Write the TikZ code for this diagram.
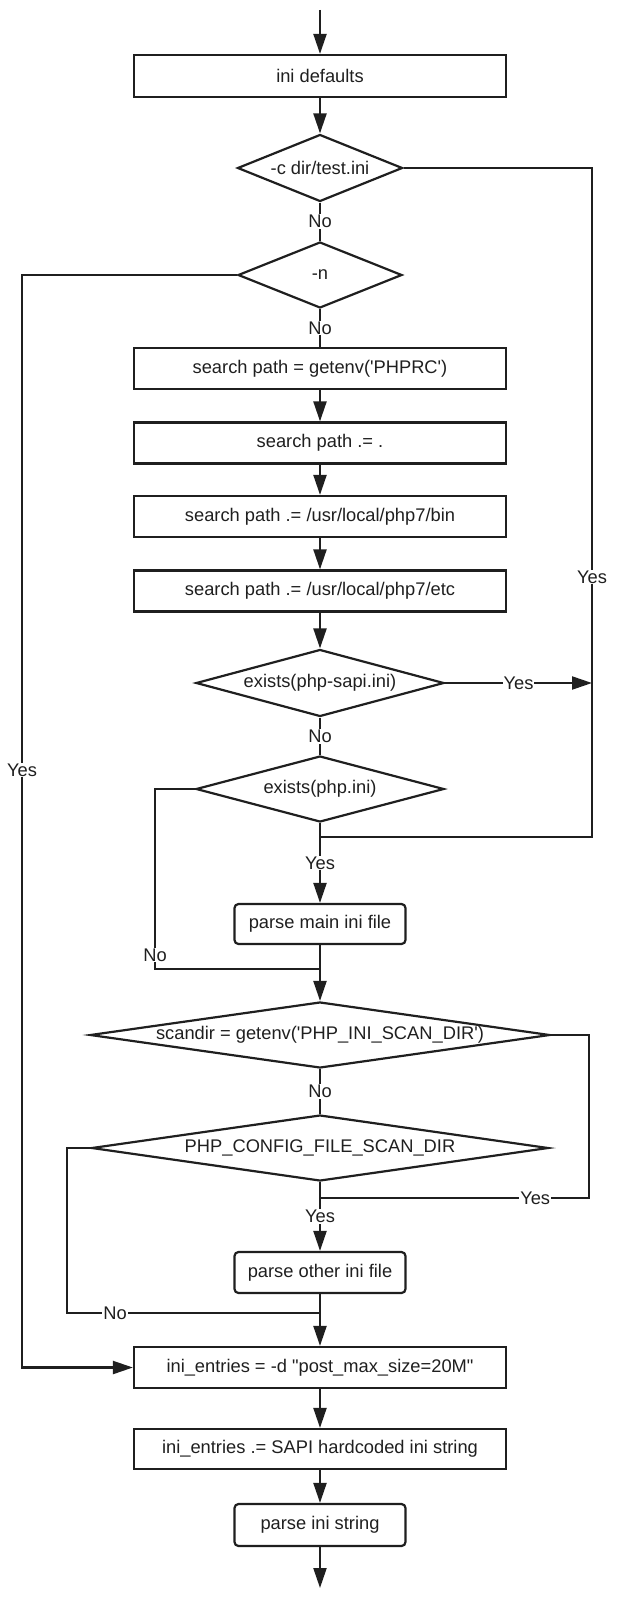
\documentclass[tikz,border=0pt]{standalone}
\usepackage{fontspec}
\setmainfont{Liberation Sans}[Ligatures=TeXOff]
\usetikzlibrary{shapes.geometric,arrows.meta}
\begin{document}
\begin{tikzpicture}[x=1pt,y=-1pt,
  every node/.style={font=\fontsize{18.3}{21}\selectfont, text=black!88},
  line/.style={line width=2.2pt, draw=black!88},
  arr/.style={line, -{Triangle[length=20pt,width=13pt]}},
  box/.style={draw=black!88, line width=2.2pt, rectangle, inner sep=0pt, minimum width=372pt, minimum height=41pt},
  rbox/.style={draw=black!88, line width=2.2pt, rectangle, rounded corners=4pt, inner sep=0pt, minimum width=171pt, minimum height=41pt},
  dia/.style={draw=black!88, line width=2.2pt, diamond, inner sep=0pt},
  lbl/.style={fill=white, inner sep=1pt}
]
\useasboundingbox (0,0) rectangle (616,1600);

% nodes
\coordinate (start) at (320,10);
\node[box, minimum height=42pt] (def) at (320,76) {ini defaults};
\node[dia, minimum width=165pt, minimum height=67pt, aspect=2.46] (d1) at (320,168) {-c dir/test.ini};
\node[dia, minimum width=164pt, minimum height=66pt, aspect=2.48] (d2) at (320,275) {-n};
\node[box] (s1) at (320,368.5) {search path = getenv('PHPRC')};
\node[box] (s2) at (320,443) {search path .= .};
\node[box] (s3) at (320,516.5) {search path .= /usr/local/php7/bin};
\node[box] (s4) at (320,591) {search path .= /usr/local/php7/etc};
\node[dia, minimum width=248pt, minimum height=67pt, aspect=3.7] (d3) at (320,683) {exists(php-sapi.ini)};
\node[dia, minimum width=248pt, minimum height=66pt, aspect=3.75] (d4) at (320,789) {exists(php.ini)};
\node[rbox, minimum height=40pt] (pm) at (320,924) {parse main ini file};
\node[dia, minimum width=460pt, minimum height=66pt, aspect=6.97] (d5) at (320,1035) {scandir = getenv('PHP\_INI\_SCAN\_DIR')};
\node[dia, minimum width=457pt, minimum height=66pt, aspect=6.92] (d6) at (320,1148) {PHP\_CONFIG\_FILE\_SCAN\_DIR};
\node[rbox] (po) at (320,1272.5) {parse other ini file};
\node[box] (e1) at (320,1367.5) {ini\_entries = -d "post\_max\_size=20M"};
\node[box, minimum height=40pt] (e2) at (320,1449) {ini\_entries .= SAPI hardcoded ini string};
\node[rbox, minimum height=42pt] (pis) at (320,1525) {parse ini string};
\coordinate (end) at (320,1588);

% helper coordinates
\coordinate (rB) at (592,837);
\coordinate (j1) at (320,837);
\coordinate (r3) at (592,683);
\coordinate (l4B) at (155,969);
\coordinate (j2) at (320,969);
\coordinate (r5B) at (589,1198);
\coordinate (j3) at (320,1198);
\coordinate (l6B) at (67,1313);
\coordinate (j4) at (320,1313);
\coordinate (lB) at (22,1367.5);

% main flow
\draw[arr] (start) -- (def);
\draw[arr] (def) -- (d1);
\draw[line] (d1) -- node[lbl]{No} (d2);
\draw[line] (d2) -- node[lbl]{No} (s1);
\draw[arr] (s1) -- (s2);
\draw[arr] (s2) -- (s3);
\draw[arr] (s3) -- (s4);
\draw[arr] (s4) -- (d3);
\draw[line] (d3) -- node[lbl]{No} (d4);
\draw[arr] (d4) -- node[lbl]{Yes} (pm);
\draw[arr] (pm) -- (d5);
\draw[line] (d5) -- node[lbl]{No} (d6);
\draw[arr] (d6) -- node[lbl]{Yes} (po);
\draw[arr] (po) -- (e1);
\draw[arr] (e1) -- (e2);
\draw[arr] (e2) -- (pis);
\draw[arr] (pis) -- (end);

% branches
\draw[line] (d1.east) -| (rB) -- (j1);
\node[lbl] at (592,577) {Yes};
\draw[arr] (d3.east) -- node[lbl]{Yes} (r3);
\draw[line] (d4.west) -| (l4B) -- (j2);
\node[lbl] at (155,955) {No};
\draw[line] (d5.east) -| (r5B) -- node[lbl,pos=0.2]{Yes} (j3);
\draw[line] (d6.west) -| (l6B) -- node[lbl,pos=0.19]{No} (j4);
\draw[arr] (d2.west) -| (lB) -- (e1.west);
\node[lbl] at (22,770) {Yes};
\end{tikzpicture}
\end{document}
